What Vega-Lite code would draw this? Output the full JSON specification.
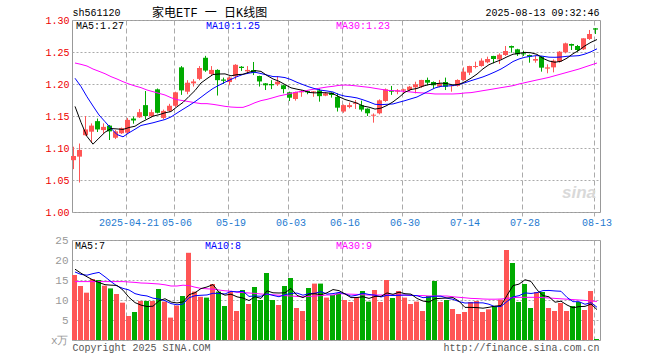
{
"$schema": "https://vega.github.io/schema/vega-lite/v6.json",
"background": "white",
"padding": {"left": 44, "top": 6, "right": 4, "bottom": 4},
"spacing": 28,
"bounds": "flush",
"config": {
  "font": "Liberation Mono",
  "view": {"stroke": "#999999", "strokeWidth": 1},
  "axis": {"labelFont": "Liberation Mono", "titleFont": "Liberation Mono", "labelFontSize": 10, "gridColor": "#aaaaaa", "domain": false, "titleFontWeight": "normal", "labelOverlap": false}
},
"datasets": {"k": [
{"d":"2025-04-08","o":1.081,"h":1.102,"l":1.067,"c":1.0875,"m5":1.165,"m10":1.209,"m30":1.2328,"v":16.25,"v5":17.7,"v10":17.0,"v30":14.6},
{"d":"2025-04-09","o":1.0865,"h":1.107,"l":1.046,"c":1.097,"m5":1.140,"m10":1.196,"m30":1.2307,"v":13.5,"v5":16.7,"v10":16.4,"v30":14.6},
{"d":"2025-04-10","o":1.120,"h":1.150,"l":1.119,"c":1.129,"m5":1.118,"m10":1.180,"m30":1.2281,"v":11.83,"v5":15.8,"v10":16.2,"v30":14.6},
{"d":"2025-04-11","o":1.1255,"h":1.1385,"l":1.108,"c":1.135,"m5":1.106,"m10":1.1656,"m30":1.2234,"v":15.25,"v5":15.0,"v10":16.6,"v30":14.6},
{"d":"2025-04-14","o":1.142,"h":1.146,"l":1.125,"c":1.129,"m5":1.1155,"m10":1.1516,"m30":1.2198,"v":15.0,"v5":14.37,"v10":16.9,"v30":14.6},
{"d":"2025-04-15","o":1.128,"h":1.1385,"l":1.123,"c":1.133,"m5":1.1246,"m10":1.1411,"m30":1.2161,"v":13.58,"v5":13.83,"v10":15.8,"v30":14.6},
{"d":"2025-04-16","o":1.135,"h":1.136,"l":1.1125,"c":1.126,"m5":1.1304,"m10":1.1307,"m30":1.2115,"v":12.9,"v5":13.71,"v10":14.6,"v30":14.6},
{"d":"2025-04-17","o":1.116,"h":1.128,"l":1.114,"c":1.126,"m5":1.1298,"m10":1.121,"m30":1.2078,"v":11.5,"v5":13.65,"v10":13.5,"v30":14.6},
{"d":"2025-04-18","o":1.123,"h":1.132,"l":1.122,"c":1.131,"m5":1.129,"m10":1.1175,"m30":1.2036,"v":9.33,"v5":12.46,"v10":12.9,"v30":14.6},
{"d":"2025-04-21","o":1.124,"h":1.147,"l":1.122,"c":1.144,"m5":1.132,"m10":1.1238,"m30":1.2,"v":6.0,"v5":10.66,"v10":12.51,"v30":14.5},
{"d":"2025-04-22","o":1.146,"h":1.149,"l":1.138,"c":1.143,"m5":1.134,"m10":1.1293,"m30":1.1969,"v":7.0,"v5":9.35,"v10":11.59,"v30":14.4},
{"d":"2025-04-23","o":1.148,"h":1.161,"l":1.147,"c":1.156,"m5":1.14,"m10":1.1352,"m30":1.1943,"v":9.75,"v5":8.72,"v10":11.21,"v30":14.25},
{"d":"2025-04-24","o":1.167,"h":1.189,"l":1.145,"c":1.150,"m5":1.1448,"m10":1.1373,"m30":1.1906,"v":9.75,"v5":8.37,"v10":11.01,"v30":14.2},
{"d":"2025-04-25","o":1.150,"h":1.160,"l":1.148,"c":1.156,"m5":1.1498,"m10":1.1394,"m30":1.188,"v":9.75,"v5":8.45,"v10":10.46,"v30":14.1},
{"d":"2025-04-28","o":1.1917,"h":1.193,"l":1.154,"c":1.155,"m5":1.152,"m10":1.142,"m30":1.1854,"v":12.75,"v5":9.8,"v10":10.23,"v30":14.0},
{"d":"2025-04-29","o":1.147,"h":1.160,"l":1.145,"c":1.158,"m5":1.155,"m10":1.1445,"m30":1.1828,"v":9.6,"v5":10.32,"v10":9.83,"v30":13.8},
{"d":"2025-04-30","o":1.158,"h":1.169,"l":1.156,"c":1.166,"m5":1.157,"m10":1.1485,"m30":1.1786,"v":5.6,"v5":9.49,"v10":9.1,"v30":13.5},
{"d":"2025-05-06","o":1.166,"h":1.188,"l":1.164,"c":1.187,"m5":1.1644,"m10":1.1546,"m30":1.1755,"v":8.6,"v5":9.26,"v10":8.81,"v30":13.5},
{"d":"2025-05-07","o":1.226,"h":1.228,"l":1.183,"c":1.190,"m5":1.1712,"m10":1.1605,"m30":1.174,"v":11.0,"v5":9.51,"v10":8.98,"v30":13.7},
{"d":"2025-05-08","o":1.188,"h":1.206,"l":1.184,"c":1.202,"m5":1.1806,"m10":1.1663,"m30":1.1724,"v":21.8,"v5":11.32,"v10":10.56,"v30":13.6},
{"d":"2025-05-09","o":1.201,"h":1.2075,"l":1.196,"c":1.204,"m5":1.1898,"m10":1.1724,"m30":1.1708,"v":12.1,"v5":11.82,"v10":11.07,"v30":13.2},
{"d":"2025-05-12","o":1.208,"h":1.228,"l":1.206,"c":1.225,"m5":1.2016,"m10":1.1793,"m30":1.1693,"v":10.8,"v5":12.86,"v10":11.18,"v30":12.9},
{"d":"2025-05-13","o":1.241,"h":1.244,"l":1.219,"c":1.221,"m5":1.2084,"m10":1.1864,"m30":1.1693,"v":10.6,"v5":13.26,"v10":11.26,"v30":12.8},
{"d":"2025-05-14","o":1.2156,"h":1.228,"l":1.2125,"c":1.222,"m5":1.2148,"m10":1.193,"m30":1.1682,"v":14.0,"v5":13.86,"v10":11.69,"v30":12.7},
{"d":"2025-05-15","o":1.222,"h":1.223,"l":1.182,"c":1.206,"m5":1.2156,"m10":1.1981,"m30":1.1667,"v":12.1,"v5":11.92,"v10":11.62,"v30":12.5},
{"d":"2025-05-16","o":1.207,"h":1.210,"l":1.200,"c":1.205,"m5":1.2158,"m10":1.2028,"m30":1.1651,"v":8.5,"v5":11.2,"v10":11.51,"v30":12.3},
{"d":"2025-05-19","o":1.203,"h":1.212,"l":1.198,"c":1.210,"m5":1.2128,"m10":1.2072,"m30":1.164,"v":12.1,"v5":11.46,"v10":12.16,"v30":12.2},
{"d":"2025-05-20","o":1.212,"h":1.231,"l":1.207,"c":1.230,"m5":1.2146,"m10":1.2115,"m30":1.1635,"v":7.25,"v5":10.79,"v10":12.03,"v30":11.95},
{"d":"2025-05-21","o":1.227,"h":1.228,"l":1.2205,"c":1.225,"m5":1.2152,"m10":1.215,"m30":1.1635,"v":12.5,"v5":10.49,"v10":12.18,"v30":11.85},
{"d":"2025-05-22","o":1.2198,"h":1.228,"l":1.2156,"c":1.222,"m5":1.2184,"m10":1.217,"m30":1.1667,"v":9.0,"v5":9.87,"v10":10.9,"v30":11.75},
{"d":"2025-05-23","o":1.2219,"h":1.2344,"l":1.214,"c":1.2177,"m5":1.2209,"m10":1.2184,"m30":1.1708,"v":13.25,"v5":10.82,"v10":11.01,"v30":11.65},
{"d":"2025-05-26","o":1.2125,"h":1.213,"l":1.196,"c":1.204,"m5":1.2197,"m10":1.2163,"m30":1.174,"v":10.0,"v5":10.4,"v10":10.93,"v30":11.5},
{"d":"2025-05-27","o":1.201,"h":1.2015,"l":1.1906,"c":1.198,"m5":1.2133,"m10":1.214,"m30":1.176,"v":16.75,"v5":12.3,"v10":11.55,"v30":11.4},
{"d":"2025-05-28","o":1.200,"h":1.206,"l":1.192,"c":1.198,"m5":1.2079,"m10":1.2116,"m30":1.1786,"v":10.0,"v5":11.8,"v10":11.15,"v30":11.3},
{"d":"2025-05-29","o":1.1995,"h":1.2125,"l":1.197,"c":1.2036,"m5":1.2043,"m10":1.2113,"m30":1.1813,"v":8.75,"v5":11.75,"v10":10.81,"v30":11.2},
{"d":"2025-05-30","o":1.198,"h":1.199,"l":1.1854,"c":1.192,"m5":1.1991,"m10":1.21,"m30":1.1833,"v":13.5,"v5":11.8,"v10":11.31,"v30":11.1},
{"d":"2025-06-03","o":1.187,"h":1.188,"l":1.1734,"c":1.1786,"m5":1.194,"m10":1.2069,"m30":1.1854,"v":15.5,"v5":12.9,"v10":11.65,"v30":11.0},
{"d":"2025-06-04","o":1.1766,"h":1.188,"l":1.174,"c":1.1875,"m5":1.1919,"m10":1.2026,"m30":1.1875,"v":8.0,"v5":11.15,"v10":11.73,"v30":10.9},
{"d":"2025-06-05","o":1.187,"h":1.1906,"l":1.180,"c":1.189,"m5":1.1901,"m10":1.199,"m30":1.1885,"v":7.25,"v5":10.6,"v10":11.2,"v30":10.8},
{"d":"2025-06-06","o":1.189,"h":1.1895,"l":1.184,"c":1.187,"m5":1.1868,"m10":1.1955,"m30":1.1906,"v":13.0,"v5":11.45,"v10":11.6,"v30":10.9},
{"d":"2025-06-09","o":1.187,"h":1.189,"l":1.180,"c":1.1885,"m5":1.1861,"m10":1.1926,"m30":1.1922,"v":14.1,"v5":11.57,"v10":11.69,"v30":11.0},
{"d":"2025-06-10","o":1.190,"h":1.1927,"l":1.1724,"c":1.181,"m5":1.1866,"m10":1.1903,"m30":1.1938,"v":14.1,"v5":11.29,"v10":12.1,"v30":11.1},
{"d":"2025-06-11","o":1.1818,"h":1.1875,"l":1.181,"c":1.1854,"m5":1.1862,"m10":1.1891,"m30":1.1953,"v":10.6,"v5":11.81,"v10":11.48,"v30":11.25},
{"d":"2025-06-12","o":1.1865,"h":1.187,"l":1.1787,"c":1.1828,"m5":1.1849,"m10":1.1875,"m30":1.1964,"v":11.25,"v5":12.61,"v10":11.6,"v30":11.25},
{"d":"2025-06-13","o":1.180,"h":1.1854,"l":1.157,"c":1.163,"m5":1.1801,"m10":1.1835,"m30":1.1979,"v":11.67,"v5":12.34,"v10":11.9,"v30":11.6},
{"d":"2025-06-16","o":1.157,"h":1.168,"l":1.155,"c":1.167,"m5":1.1758,"m10":1.181,"m30":1.1984,"v":10.0,"v5":11.52,"v10":11.55,"v30":11.5},
{"d":"2025-06-17","o":1.164,"h":1.171,"l":1.162,"c":1.167,"m5":1.173,"m10":1.1798,"m30":1.1979,"v":9.5,"v5":10.6,"v10":10.95,"v30":11.45},
{"d":"2025-06-18","o":1.169,"h":1.175,"l":1.161,"c":1.1708,"m5":1.1701,"m10":1.1782,"m30":1.1969,"v":10.67,"v5":10.62,"v10":11.21,"v30":11.4},
{"d":"2025-06-19","o":1.167,"h":1.174,"l":1.157,"c":1.160,"m5":1.1656,"m10":1.1753,"m30":1.1958,"v":12.25,"v5":10.82,"v10":11.71,"v30":11.3},
{"d":"2025-06-20","o":1.1615,"h":1.162,"l":1.150,"c":1.1542,"m5":1.1638,"m10":1.172,"m30":1.1948,"v":9.6,"v5":10.4,"v10":11.37,"v30":11.25},
{"d":"2025-06-23","o":1.1505,"h":1.154,"l":1.1396,"c":1.152,"m5":1.1608,"m10":1.1683,"m30":1.1932,"v":12.5,"v5":10.9,"v10":11.21,"v30":11.25},
{"d":"2025-06-24","o":1.1542,"h":1.176,"l":1.1526,"c":1.1745,"m5":1.1623,"m10":1.1677,"m30":1.1917,"v":9.5,"v5":10.9,"v10":10.75,"v30":11.25},
{"d":"2025-06-25","o":1.1734,"h":1.193,"l":1.172,"c":1.1917,"m5":1.1665,"m10":1.1683,"m30":1.1901,"v":15.0,"v5":11.77,"v10":11.19,"v30":11.25},
{"d":"2025-06-26","o":1.190,"h":1.197,"l":1.183,"c":1.188,"m5":1.1721,"m10":1.1688,"m30":1.1896,"v":10.5,"v5":11.42,"v10":11.12,"v30":11.25},
{"d":"2025-06-27","o":1.188,"h":1.192,"l":1.184,"c":1.190,"m5":1.1792,"m10":1.1715,"m30":1.1891,"v":12.25,"v5":11.95,"v10":11.18,"v30":11.25},
{"d":"2025-06-30","o":1.1896,"h":1.1927,"l":1.186,"c":1.1917,"m5":1.1872,"m10":1.174,"m30":1.1885,"v":10.6,"v5":11.57,"v10":11.24,"v30":11.2},
{"d":"2025-07-01","o":1.1906,"h":1.197,"l":1.189,"c":1.1958,"m5":1.1914,"m10":1.1769,"m30":1.1875,"v":9.0,"v5":11.47,"v10":11.19,"v30":11.15},
{"d":"2025-07-02","o":1.1948,"h":1.2036,"l":1.1854,"c":1.1995,"m5":1.193,"m10":1.1797,"m30":1.1865,"v":9.6,"v5":10.39,"v10":11.08,"v30":11.1},
{"d":"2025-07-03","o":1.1958,"h":1.2065,"l":1.194,"c":1.2063,"m5":1.1967,"m10":1.1844,"m30":1.186,"v":7.25,"v5":9.74,"v10":10.58,"v30":11.1},
{"d":"2025-07-04","o":1.2063,"h":1.21,"l":1.198,"c":1.2021,"m5":1.1991,"m10":1.1892,"m30":1.1854,"v":11.0,"v5":9.49,"v10":10.72,"v30":11.0},
{"d":"2025-07-07","o":1.2031,"h":1.204,"l":1.1927,"c":1.198,"m5":1.2003,"m10":1.1938,"m30":1.1844,"v":14.75,"v5":10.32,"v10":10.95,"v30":11.0},
{"d":"2025-07-08","o":1.1958,"h":1.2063,"l":1.1948,"c":1.201,"m5":1.2014,"m10":1.1964,"m30":1.1844,"v":9.5,"v5":10.42,"v10":10.95,"v30":11.0},
{"d":"2025-07-09","o":1.2031,"h":1.21,"l":1.1906,"c":1.1958,"m5":1.2006,"m10":1.1968,"m30":1.1844,"v":10.0,"v5":10.5,"v10":10.45,"v30":11.0},
{"d":"2025-07-10","o":1.1955,"h":1.197,"l":1.188,"c":1.1958,"m5":1.1985,"m10":1.1976,"m30":1.1844,"v":7.75,"v5":10.6,"v10":10.17,"v30":10.8},
{"d":"2025-07-11","o":1.197,"h":1.2073,"l":1.196,"c":1.2063,"m5":1.1994,"m10":1.1992,"m30":1.1849,"v":6.5,"v5":9.7,"v10":9.6,"v30":10.67},
{"d":"2025-07-14","o":1.2063,"h":1.226,"l":1.205,"c":1.2193,"m5":1.2036,"m10":1.202,"m30":1.186,"v":7.0,"v5":8.15,"v10":9.24,"v30":10.55},
{"d":"2025-07-15","o":1.2177,"h":1.2285,"l":1.214,"c":1.2281,"m5":1.2091,"m10":1.2052,"m30":1.1865,"v":9.5,"v5":8.15,"v10":9.29,"v30":10.4},
{"d":"2025-07-16","o":1.2266,"h":1.2349,"l":1.2245,"c":1.2281,"m5":1.2155,"m10":1.2081,"m30":1.188,"v":9.75,"v5":8.1,"v10":9.3,"v30":10.35},
{"d":"2025-07-17","o":1.2281,"h":1.2401,"l":1.2271,"c":1.2365,"m5":1.2237,"m10":1.2111,"m30":1.1896,"v":7.0,"v5":7.95,"v10":9.28,"v30":10.25},
{"d":"2025-07-18","o":1.2339,"h":1.2427,"l":1.2323,"c":1.2391,"m5":1.2302,"m10":1.2148,"m30":1.1911,"v":7.67,"v5":8.18,"v10":8.94,"v30":10.2},
{"d":"2025-07-21","o":1.2438,"h":1.244,"l":1.2323,"c":1.2391,"m5":1.2342,"m10":1.2189,"m30":1.1927,"v":8.5,"v5":8.48,"v10":8.32,"v30":10.2},
{"d":"2025-07-22","o":1.2385,"h":1.2479,"l":1.2313,"c":1.2458,"m5":1.2377,"m10":1.2234,"m30":1.1943,"v":10.1,"v5":8.6,"v10":8.38,"v30":10.25},
{"d":"2025-07-23","o":1.2453,"h":1.2594,"l":1.2438,"c":1.2516,"m5":1.2424,"m10":1.229,"m30":1.1958,"v":22.5,"v5":11.15,"v10":9.63,"v30":10.4},
{"d":"2025-07-24","o":1.2594,"h":1.26,"l":1.249,"c":1.2568,"m5":1.2465,"m10":1.2351,"m30":1.1974,"v":19.25,"v5":13.6,"v10":10.78,"v30":10.6},
{"d":"2025-07-25","o":1.2542,"h":1.255,"l":1.2438,"c":1.2464,"m5":1.2479,"m10":1.2391,"m30":1.2,"v":9.5,"v5":13.97,"v10":11.08,"v30":10.67},
{"d":"2025-07-28","o":1.248,"h":1.252,"l":1.2438,"c":1.2464,"m5":1.2494,"m10":1.2418,"m30":1.2021,"v":14.0,"v5":15.07,"v10":11.78,"v30":10.67},
{"d":"2025-07-29","o":1.2453,"h":1.246,"l":1.2333,"c":1.2427,"m5":1.2488,"m10":1.2433,"m30":1.2042,"v":8.0,"v5":14.65,"v10":11.63,"v30":10.67},
{"d":"2025-07-30","o":1.2365,"h":1.2438,"l":1.2333,"c":1.2391,"m5":1.2463,"m10":1.2444,"m30":1.2063,"v":12.0,"v5":12.55,"v10":11.85,"v30":10.67},
{"d":"2025-07-31","o":1.2427,"h":1.2438,"l":1.2193,"c":1.2255,"m5":1.24,"m10":1.2433,"m30":1.2083,"v":12.0,"v5":11.1,"v10":12.35,"v30":10.6},
{"d":"2025-08-01","o":1.224,"h":1.2307,"l":1.2167,"c":1.226,"m5":1.2359,"m10":1.2419,"m30":1.2104,"v":8.0,"v5":10.8,"v10":12.39,"v30":10.5},
{"d":"2025-08-04","o":1.226,"h":1.2385,"l":1.2182,"c":1.2365,"m5":1.234,"m10":1.2417,"m30":1.213,"v":7.25,"v5":9.45,"v10":12.26,"v30":10.4},
{"d":"2025-08-05","o":1.2349,"h":1.2516,"l":1.2333,"c":1.2505,"m5":1.2355,"m10":1.2422,"m30":1.2156,"v":9.25,"v5":9.7,"v10":12.18,"v30":10.3},
{"d":"2025-08-06","o":1.2495,"h":1.2646,"l":1.2479,"c":1.2635,"m5":1.2404,"m10":1.2433,"m30":1.2182,"v":7.25,"v5":8.75,"v10":10.65,"v30":10.2},
{"d":"2025-08-07","o":1.2625,"h":1.263,"l":1.2531,"c":1.2599,"m5":1.2473,"m10":1.2437,"m30":1.2208,"v":8.5,"v5":8.05,"v10":9.58,"v30":10.1},
{"d":"2025-08-08","o":1.2594,"h":1.261,"l":1.2505,"c":1.2531,"m5":1.2527,"m10":1.2443,"m30":1.2234,"v":9.5,"v5":8.35,"v10":9.58,"v30":10.0},
{"d":"2025-08-11","o":1.2542,"h":1.2714,"l":1.2531,"c":1.2714,"m5":1.2597,"m10":1.2468,"m30":1.2266,"v":7.5,"v5":8.4,"v10":8.93,"v30":9.9},
{"d":"2025-08-12","o":1.2703,"h":1.2844,"l":1.2688,"c":1.2781,"m5":1.2652,"m10":1.2504,"m30":1.2297,"v":12.25,"v5":9.0,"v10":9.35,"v30":9.75},
{"d":"2025-08-13","o":1.287,"h":1.2875,"l":1.2781,"c":1.285,"m5":1.2695,"m10":1.255,"m30":1.2328,"v":0.25,"v5":7.6,"v10":8.18,"v30":9.65}
]},
"vconcat": [
{
  "width": 528, "height": 192,
  "data": {"name": "k"},
  "title": {"text": "家电ETF 一 日K线图", "anchor": "start", "frame": "group", "dx": 80, "dy": 15, "offset": 2, "fontSize": 12, "font": "Liberation Mono, Noto Sans CJK SC", "fontWeight": "normal", "color": "#000000"},
  "encoding": {
    "x": {"field": "d", "type": "ordinal", "scale": {"type": "band", "paddingInner": 0, "paddingOuter": 0},
      "axis": {"values": ["2025-04-21","2025-05-06","2025-05-19","2025-06-03","2025-06-16","2025-06-30","2025-07-14","2025-07-28","2025-08-13"],
        "bandPosition": 0, "labelAngle": 0, "labelExpr": "datum.value == '2025-04-21' ? datum.value : substring(datum.value, 5, 10)",
        "labelColor": "#1e7ad0", "labelFontSize": 10, "labelPadding": 1,
        "grid": true, "gridDash": [5, 3], "gridColor": "#aaaaaa",
        "ticks": true, "tickSize": 4, "tickDash": [5, 3], "tickColor": "#aaaaaa",
        "title": "2025-08-13 09:32:46", "titleX": 527, "titleY": -200, "titleAlign": "right", "titleBaseline": "middle", "titleFontSize": 10, "titleColor": "#000000"}}
  },
  "layer": [
    {"mark": {"type": "rule", "xOffset": -1.5, "strokeWidth": 1},
     "encoding": {
       "y": {"field": "l", "type": "quantitative", "scale": {"domain": [1.0, 1.3], "zero": false, "nice": false},
         "axis": {"values": [1.0, 1.05, 1.1, 1.15, 1.2, 1.25, 1.3], "tickCount": 20, "format": ".2f", "labelColor": "#ee0000", "labelFontSize": 10, "labelPadding": 3, "labelOverlap": false, "ticks": false, "grid": true, "gridDash": [2, 2], "gridColor": "#aaaaaa",
           "title": "sh561120", "titleAngle": 0, "titleX": 0, "titleY": -8, "titleAlign": "left", "titleBaseline": "middle", "titleFontSize": 10, "titleColor": "#000000"}},
       "y2": {"field": "h"},
       "color": {"condition": {"test": "datum.c >= datum.o", "value": "#ff5555"}, "value": "#00aa00"}}},
    {"mark": {"type": "bar", "width": 5, "xOffset": -1.5},
     "encoding": {
       "y": {"field": "o", "type": "quantitative"},
       "y2": {"field": "c"},
       "color": {"condition": {"test": "datum.c >= datum.o", "value": "#ff5555"}, "value": "#00aa00"}}},
    {"mark": {"type": "line", "color": "#ff00ff", "strokeWidth": 1},
     "encoding": {"y": {"field": "m30", "type": "quantitative"}}},
    {"mark": {"type": "line", "color": "#0000ff", "strokeWidth": 1},
     "encoding": {"y": {"field": "m10", "type": "quantitative"}}},
    {"mark": {"type": "line", "color": "#000000", "strokeWidth": 1},
     "encoding": {"y": {"field": "m5", "type": "quantitative"}}},
    {"data": {"values": [{}]},
     "mark": {"type": "text", "align": "left", "baseline": "middle", "dx": 1, "fontSize": 10, "font": "Liberation Mono", "color": "#000000"},
     "encoding": {"x": {"datum": "2025-04-08", "type": "ordinal"}, "y": {"datum": 1.29, "type": "quantitative"}, "text": {"value": "MA5:1.27"}}},
    {"data": {"values": [{}]},
     "mark": {"type": "text", "align": "left", "baseline": "middle", "dx": -1, "fontSize": 10, "font": "Liberation Mono", "color": "#0000ff"},
     "encoding": {"x": {"datum": "2025-05-13", "type": "ordinal"}, "y": {"datum": 1.29, "type": "quantitative"}, "text": {"value": "MA10:1.25"}}},
    {"data": {"values": [{}]},
     "mark": {"type": "text", "align": "left", "baseline": "middle", "dx": -3, "fontSize": 10, "font": "Liberation Mono", "color": "#ff00ff"},
     "encoding": {"x": {"datum": "2025-06-13", "type": "ordinal"}, "y": {"datum": 1.29, "type": "quantitative"}, "text": {"value": "MA30:1.23"}}},
    {"data": {"values": [{}]},
     "mark": {"type": "text", "align": "center", "baseline": "middle", "fontSize": 17, "fontStyle": "italic", "fontWeight": "bold", "font": "Liberation Sans", "color": "#d9d9d9"},
     "encoding": {"x": {"datum": "2025-08-08", "type": "ordinal"}, "y": {"datum": 1.03, "type": "quantitative"}, "text": {"value": "sina"}}}
  ]
},
{
  "width": 528, "height": 100,
  "data": {"name": "k"},
  "encoding": {
    "x": {"field": "d", "type": "ordinal", "scale": {"type": "band", "paddingInner": 0, "paddingOuter": 0},
      "axis": {"values": ["2025-04-21","2025-05-06","2025-05-19","2025-06-03","2025-06-16","2025-06-30","2025-07-14","2025-07-28","2025-08-13"],
        "bandPosition": 0, "labels": false, "ticks": false,
        "grid": true, "gridDash": [5, 3], "gridColor": "#aaaaaa",
        "title": "Copyright 2025 SINA.COM", "titleX": 0, "titleY": 2, "titleAlign": "left", "titleBaseline": "top", "titleFontSize": 10, "titleColor": "#555555"}}
  },
  "layer": [
    {"mark": {"type": "bar", "width": 5, "xOffset": -0.5},
     "encoding": {
       "y": {"field": "v", "type": "quantitative", "scale": {"domain": [0, 25], "nice": false},
         "axis": {"values": [0, 5, 10, 15, 20, 25], "tickCount": 20, "labelExpr": "datum.value == 0 ? 'x万' : datum.label", "labelColor": "#999999", "labelFontSize": 11, "labelPadding": 4, "labelOverlap": false, "ticks": false, "grid": true, "gridDash": [2, 2], "gridColor": "#aaaaaa",
           "title": "http://finance.sina.com.cn", "titleAngle": 0, "titleX": 527, "titleY": 102, "titleAlign": "right", "titleBaseline": "top", "titleFontSize": 10, "titleColor": "#555555"}},
       "color": {"condition": {"test": "datum.c >= datum.o", "value": "#ff5555"}, "value": "#00aa00"}}},
    {"mark": {"type": "line", "color": "#ff00ff", "strokeWidth": 1},
     "encoding": {"y": {"field": "v30", "type": "quantitative"}}},
    {"mark": {"type": "line", "color": "#0000ff", "strokeWidth": 1},
     "encoding": {"y": {"field": "v10", "type": "quantitative"}}},
    {"mark": {"type": "line", "color": "#000000", "strokeWidth": 1},
     "encoding": {"y": {"field": "v5", "type": "quantitative"}}},
    {"data": {"values": [{}]},
     "mark": {"type": "text", "align": "left", "baseline": "middle", "dx": 0, "fontSize": 10, "font": "Liberation Mono", "color": "#000000"},
     "encoding": {"x": {"datum": "2025-04-08", "type": "ordinal"}, "y": {"datum": 23.4, "type": "quantitative"}, "text": {"value": "MA5:7"}}},
    {"data": {"values": [{}]},
     "mark": {"type": "text", "align": "left", "baseline": "middle", "dx": -2, "fontSize": 10, "font": "Liberation Mono", "color": "#0000ff"},
     "encoding": {"x": {"datum": "2025-05-13", "type": "ordinal"}, "y": {"datum": 23.4, "type": "quantitative"}, "text": {"value": "MA10:8"}}},
    {"data": {"values": [{}]},
     "mark": {"type": "text", "align": "left", "baseline": "middle", "dx": -3, "fontSize": 10, "font": "Liberation Mono", "color": "#ff00ff"},
     "encoding": {"x": {"datum": "2025-06-13", "type": "ordinal"}, "y": {"datum": 23.4, "type": "quantitative"}, "text": {"value": "MA30:9"}}}
  ]
}
]
}
